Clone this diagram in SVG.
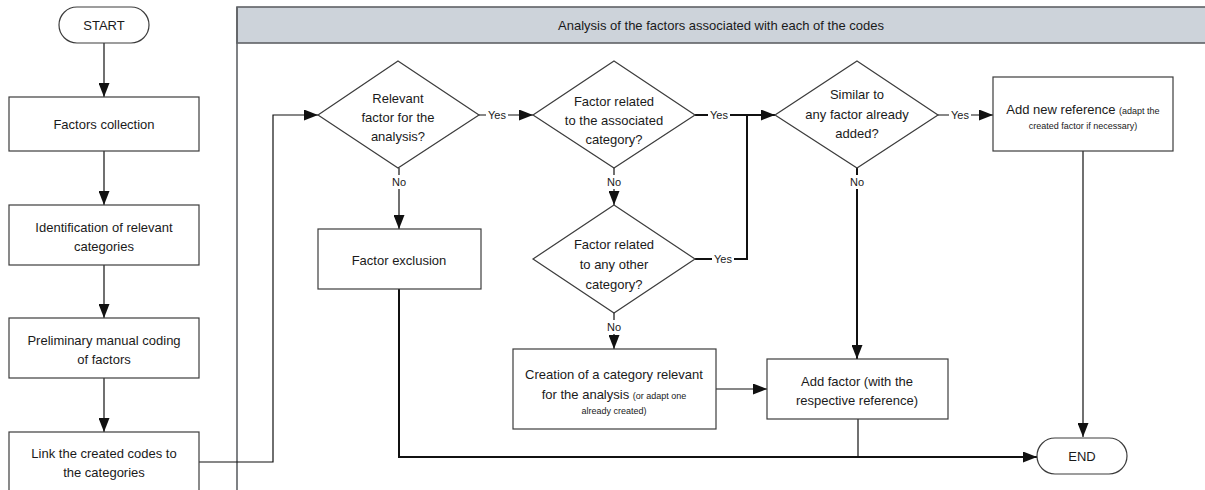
<svg xmlns="http://www.w3.org/2000/svg" width="1205" height="490" viewBox="0 0 1205 490">
  <style>
    .box { fill: #ffffff; stroke: #3c3c3c; stroke-width: 1.2; }
    .term { fill: #ffffff; stroke: #3c3c3c; stroke-width: 1.2; }
    .dec { fill: #ffffff; stroke: #3c3c3c; stroke-width: 1.2; }
    .lane { fill: #cdd3da; stroke: #5f6266; stroke-width: 1.6; }
    .wire { fill: none; stroke: #111111; stroke-width: 1.2; }
    .wire.bold { stroke-width: 2; }
    text { font-family: "Liberation Sans", Arial, sans-serif; fill: #1a1a1a; text-anchor: middle; }
    .t { font-size: 13px; }
    .s { font-size: 9px; }
    .lbl { font-size: 11px; }
    .bg { fill: #ffffff; }
  </style>
  <defs>
    <marker id="arrow" viewBox="0 0 10 10" refX="10" refY="5" markerWidth="10" markerHeight="10" markerUnits="userSpaceOnUse" orient="auto">
      <path d="M0,0 L10,5 L0,10 z" fill="#111111"/>
    </marker>
    <marker id="arrowTall" viewBox="0 0 10 10" refX="10" refY="5" markerWidth="14" markerHeight="11" markerUnits="userSpaceOnUse" orient="auto" preserveAspectRatio="none">
      <path d="M0,0 L10,5 L0,10 z" fill="#111111"/>
    </marker>
  </defs>

  <!-- swimlane -->
  <g id="lane">
    <rect class="lane" x="237" y="7" width="975" height="36"/>
    <line x1="237" y1="7" x2="237" y2="490" stroke="#5f6266" stroke-width="1.6"/>
    <text class="t" x="721" y="30">Analysis of the factors associated with each of the codes</text>
  </g>

  <!-- connectors -->
  <g id="connectors">
    <line class="wire" x1="104" y1="43" x2="104" y2="97" marker-end="url(#arrowTall)"/>
    <line class="wire" x1="104" y1="151" x2="104" y2="205" marker-end="url(#arrowTall)"/>
    <line class="wire" x1="104" y1="265" x2="104" y2="318" marker-end="url(#arrowTall)"/>
    <line class="wire" x1="104" y1="378" x2="104" y2="432" marker-end="url(#arrowTall)"/>
    <polyline class="wire" points="199,462 273,462 273,115 318,115" marker-end="url(#arrowTall)"/>

    <!-- relevant? -->
    <line class="wire" x1="479" y1="115" x2="533" y2="115" marker-end="url(#arrowTall)"/>
    <line class="wire" x1="399" y1="168" x2="399" y2="229" marker-end="url(#arrowTall)"/>
    <polyline class="wire bold" points="399,289 399,457 1037,457" marker-end="url(#arrowTall)"/>

    <!-- associated category? -->
    <line class="wire" x1="614" y1="168" x2="614" y2="205" marker-end="url(#arrowTall)"/>
    <line class="wire bold" x1="695" y1="115" x2="747" y2="115"/>
    <line class="wire bold" x1="747" y1="115" x2="775" y2="115" marker-end="url(#arrowTall)"/>
    <polyline class="wire bold" points="695,259 747,259 747,114"/>

    <!-- other category? -->
    <line class="wire" x1="614" y1="313" x2="614" y2="349" marker-end="url(#arrowTall)"/>
    <line class="wire" x1="716" y1="389" x2="767" y2="389" marker-end="url(#arrowTall)"/>

    <!-- similar? -->
    <line class="wire" x1="938" y1="115" x2="993" y2="115" marker-end="url(#arrowTall)"/>
    <line class="wire bold" x1="857" y1="168" x2="857" y2="359" marker-end="url(#arrowTall)"/>

    <line class="wire" x1="1083" y1="151" x2="1083" y2="437" marker-end="url(#arrowTall)"/>
    <line class="wire" x1="858" y1="419" x2="858" y2="457"/>

    <!-- branch labels -->
    <rect class="bg" x="486" y="108" width="22" height="13"/>
    <text class="lbl" x="497" y="119">Yes</text>
    <rect class="bg" x="708" y="108" width="22" height="13"/>
    <text class="lbl" x="719" y="119">Yes</text>
    <rect class="bg" x="712" y="252" width="22" height="13"/>
    <text class="lbl" x="723" y="263">Yes</text>
    <rect class="bg" x="949" y="108" width="22" height="13"/>
    <text class="lbl" x="960" y="119">Yes</text>
    <rect class="bg" x="391" y="175" width="16" height="14"/>
    <text class="lbl" x="399" y="186">No</text>
    <rect class="bg" x="606" y="175" width="16" height="14"/>
    <text class="lbl" x="614" y="186">No</text>
    <rect class="bg" x="606" y="320" width="16" height="14"/>
    <text class="lbl" x="614" y="331">No</text>
    <rect class="bg" x="849" y="175" width="16" height="14"/>
    <text class="lbl" x="857" y="186">No</text>
  </g>

  <g id="start">
    <rect class="term" x="59" y="7" width="90" height="36" rx="18" ry="18"/>
    <text class="t" x="104" y="30">START</text>
  </g>
  <g id="factors-collection">
    <rect class="box" x="9" y="97" width="190" height="54"/>
    <text class="t" x="104" y="129">Factors collection</text>
  </g>
  <g id="identification">
    <rect class="box" x="9" y="205" width="190" height="60"/>
    <text class="t" x="104" y="232">Identification of relevant</text>
    <text class="t" x="104" y="251">categories</text>
  </g>
  <g id="preliminary-coding">
    <rect class="box" x="9" y="318" width="190" height="60"/>
    <text class="t" x="104" y="345">Preliminary manual coding</text>
    <text class="t" x="104" y="364">of factors</text>
  </g>
  <g id="link-codes">
    <rect class="box" x="9" y="432" width="190" height="70"/>
    <text class="t" x="104" y="458">Link the created codes to</text>
    <text class="t" x="104" y="477">the categories</text>
  </g>

  <g id="relevant-factor">
    <polygon class="dec" points="398,61 479,115 398,168 318,115"/>
    <text class="t" x="398" y="103">Relevant</text>
    <text class="t" x="398" y="122">factor for the</text>
    <text class="t" x="398" y="141">analysis?</text>
  </g>
  <g id="factor-exclusion">
    <rect class="box" x="318" y="229" width="163" height="60"/>
    <text class="t" x="399" y="265">Factor exclusion</text>
  </g>
  <g id="associated-category">
    <polygon class="dec" points="614,61 695,115 614,168 533,115"/>
    <text class="t" x="614" y="106">Factor related</text>
    <text class="t" x="614" y="125">to the associated</text>
    <text class="t" x="614" y="144">category?</text>
  </g>
  <g id="other-category">
    <polygon class="dec" points="614,205 695,259 614,313 533,259"/>
    <text class="t" x="614" y="249">Factor related</text>
    <text class="t" x="614" y="269">to any other</text>
    <text class="t" x="614" y="289">category?</text>
  </g>
  <g id="create-category">
    <rect class="box" x="513" y="349" width="203" height="80"/>
    <text class="t" x="614" y="379">Creation of a category relevant</text>
    <text class="t" x="614" y="399">for the analysis <tspan class="s">(or adapt one</tspan></text>
    <text class="s" x="614" y="414">already created)</text>
  </g>
  <g id="similar-factor">
    <polygon class="dec" points="857,61 938,115 857,168 775,115"/>
    <text class="t" x="857" y="99">Similar to</text>
    <text class="t" x="857" y="119">any factor already</text>
    <text class="t" x="857" y="138">added?</text>
  </g>
  <g id="add-reference">
    <rect class="box" x="993" y="77" width="180" height="74"/>
    <text class="t" x="1083" y="114">Add new reference <tspan class="s">(adapt the</tspan></text>
    <text class="s" x="1083" y="129">created factor if necessary)</text>
  </g>
  <g id="add-factor">
    <rect class="box" x="767" y="359" width="181" height="60"/>
    <text class="t" x="857" y="386">Add factor (with the</text>
    <text class="t" x="857" y="405">respective reference)</text>
  </g>
  <g id="end">
    <rect class="term" x="1037" y="438" width="90" height="36" rx="18" ry="18"/>
    <text class="t" x="1082" y="461">END</text>
  </g>
</svg>
